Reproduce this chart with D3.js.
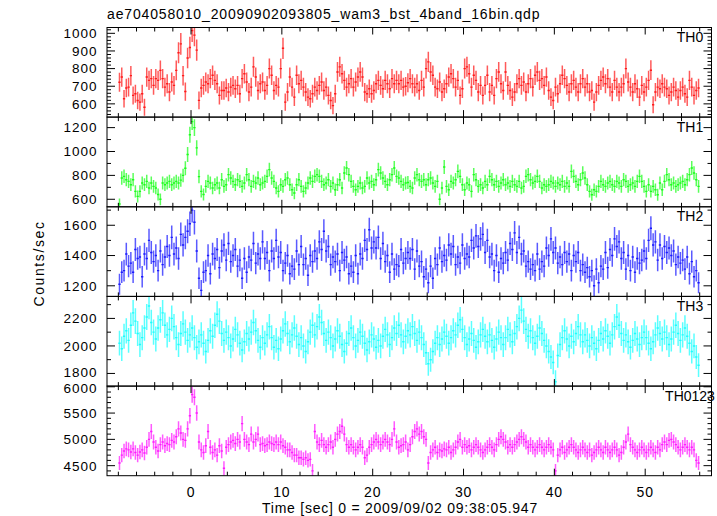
<!DOCTYPE html>
<html><head><meta charset="utf-8">
<script src="https://cdn.jsdelivr.net/npm/d3@7"></script>
<style>
body{margin:0;background:#fff}
text{font-family:"Liberation Sans",Arial,Helvetica,sans-serif;fill:#000}
</style>
</head><body>
<svg id="chart" width="717" height="516"></svg>
<script>
// ---- data (count rate, counts/sec, 0.25 s bins starting at t = -8 s) ----
const binStart = -8;
const binWidth = 0.25;

const th0 = [
 723,752,629,690,695,760,648,657,619,610,657,581,752,733,743,705,
 743,733,790,743,695,714,667,724,705,790,890,940,760,670,860,920,
 1015,990,905,620,690,705,724,714,743,762,733,714,648,676,676,690,
 667,695,705,686,705,657,743,771,724,667,695,810,752,676,714,724,
 676,705,800,762,676,705,695,800,915,610,667,752,695,638,762,714,
 733,695,667,638,629,657,695,676,705,724,676,695,648,619,590,657,
 781,810,771,733,695,714,743,695,724,752,781,752,667,657,686,657,
 676,714,733,705,686,733,714,686,743,714,733,714,733,695,700,720,
 743,714,695,714,676,733,695,800,838,781,762,695,686,724,667,686,
 714,752,771,743,695,733,648,686,800,810,771,695,762,733,667,705,
 648,705,762,667,705,648,743,781,714,676,781,705,676,638,667,714,
 743,705,724,667,714,743,695,762,781,733,743,705,752,676,638,619,
 695,657,714,762,743,705,667,714,733,695,667,714,743,695,714,667,
 676,610,667,705,733,752,714,743,695,667,733,695,667,695,714,800,
 724,695,667,714,686,638,705,667,695,733,791,595,667,695,686,714,
 695,686,648,667,695,676,638,676,695,657,638,733,695,648,676,690
];
const th1 = [
 560,778,792,764,750,722,764,666,624,666,736,722,750,694,736,708,
 694,640,600,736,722,736,750,722,736,750,736,760,800,860,975,1140,
 1250,1200,1030,790,666,640,708,750,736,694,722,736,694,764,708,722,
 806,778,750,722,764,750,708,736,806,764,708,750,736,778,722,736,
 750,792,848,778,750,694,666,722,708,764,778,722,680,652,722,764,
 708,666,694,736,778,750,792,806,792,750,722,736,764,708,736,680,
 722,764,694,820,862,806,750,708,680,708,736,694,708,778,736,750,
 722,764,848,820,778,750,722,764,806,862,792,778,750,722,736,740,
 708,694,778,806,764,750,764,722,764,778,736,708,750,600,694,870,
 708,680,750,736,764,834,792,722,680,736,722,666,806,764,708,722,
 694,750,722,792,764,722,750,708,736,764,722,736,708,750,722,708,
 750,694,708,792,806,764,736,750,792,750,694,722,708,722,750,736,
 708,736,722,750,708,736,708,834,792,750,722,764,820,778,722,666,
 638,680,666,708,750,722,708,736,750,722,708,750,736,708,764,750,
 708,722,736,708,750,792,750,708,666,722,666,708,680,638,736,680,
 750,806,764,722,736,708,722,736,750,722,764,806,862,820,764,708
];
const th2 = [
 1210,1290,1300,1410,1330,1350,1290,1440,1380,1390,1260,1410,1380,1500,1420,1360,
 1400,1300,1430,1340,1390,1460,1400,1520,1410,1450,1380,1540,1470,1520,1560,1610,
 1700,1620,1430,1250,1170,1290,1300,1400,1280,1410,1380,1440,1320,1430,1470,1370,
 1480,1360,1400,1440,1330,1370,1250,1380,1290,1390,1370,1480,1350,1410,1380,1490,
 1380,1420,1300,1430,1380,1500,1390,1420,1300,1350,1400,1280,1330,1310,1430,1340,
 1460,1340,1380,1270,1400,1360,1430,1380,1490,1440,1560,1430,1460,1340,1390,1360,
 1410,1300,1420,1370,1390,1280,1330,1290,1400,1280,1410,1380,1500,1440,1570,1450,
 1490,1450,1520,1380,1480,1360,1400,1290,1410,1310,1340,1330,1440,1350,1380,1420,
 1380,1440,1310,1430,1330,1360,1260,1310,1220,1330,1250,1380,1340,1450,1360,1400,
 1370,1470,1410,1460,1340,1390,1350,1470,1380,1410,1390,1500,1450,1530,1460,1510,
 1540,1420,1500,1390,1410,1300,1400,1290,1380,1350,1420,1370,1480,1440,1550,1420,
 1520,1410,1430,1330,1360,1310,1340,1300,1410,1310,1360,1330,1450,1400,1510,1420,
 1450,1350,1390,1340,1420,1360,1410,1300,1400,1360,1420,1300,1340,1290,1320,1260,
 1300,1200,1310,1220,1330,1310,1420,1320,1440,1400,1510,1460,1490,1380,1420,1310,
 1400,1300,1390,1290,1380,1350,1370,1430,1380,1500,1580,1470,1490,1370,1470,1380,
 1460,1420,1450,1400,1430,1340,1390,1350,1370,1310,1390,1280,1360,1260,1300,1220
];
const th3 = [
 2020,1980,2070,2110,2040,2150,2240,2180,2090,2010,2060,2130,2210,2290,2170,2100,
 2050,2130,2190,2240,2150,2080,2120,2200,2140,2060,2010,2090,2160,2100,2040,2080,
 2130,2060,1990,2030,2080,2020,1960,2040,2110,2070,2150,2230,2180,2090,2040,2100,
 2060,2000,2050,2120,2080,2020,1970,2030,2090,2050,2100,2170,2110,2040,1990,2060,
 2020,2080,2140,2060,1990,2040,1980,2050,2110,2160,2090,2030,2080,2130,2070,2010,
 2060,2000,1960,2030,2100,2150,2080,2140,2210,2170,2090,2040,2100,2060,2000,2050,
 2110,2070,2010,1960,2020,2090,2130,2060,2000,2040,2100,2070,2020,1970,2030,2080,
 2050,1990,2040,2000,2070,2120,2080,2010,2060,2130,2090,2150,2080,2030,2070,2110,
 2080,2140,2090,2040,2100,2060,2010,1950,1870,1900,1960,2020,2060,2010,2050,2100,
 2070,2020,2060,2110,2080,2150,2190,2120,2060,2010,2050,2090,2040,1990,2030,2080,
 2120,2070,2030,2080,2040,1990,2050,2100,2060,2010,2060,2120,2080,2030,2090,2140,
 2200,2260,2180,2120,2070,2110,2060,2020,2070,2130,2090,2040,2000,1960,1920,1880,
 1740,1930,2010,2060,2110,2050,2000,2070,2030,2090,2140,2080,2030,2080,2040,2000,
 2060,2020,1980,2040,2090,2050,2110,2070,2020,2080,2140,2210,2150,2090,2040,2080,
 2030,1990,2040,2090,2050,2010,2060,2100,2060,2020,1980,2030,2080,2130,2090,2050,
 2100,2060,2010,2050,2100,2150,2090,2040,2080,2130,2070,2020,1960,2000,1920,1860
];
const th0123 = [
 4550,4700,4780,4820,4800,4760,4820,4750,4700,4760,4800,4740,4850,5000,5150,4950,
 4850,4780,4900,4950,4880,4920,4900,4980,4950,5050,5200,5120,5000,4980,5200,5450,
 5850,5800,5500,4950,4800,4750,4880,5150,4850,4750,4800,4700,4880,4780,4450,4850,
 4900,4950,4980,4920,5000,4950,5300,5000,4950,4900,5100,4950,5000,5100,4900,4920,
 4880,4900,4950,4920,4900,4950,4900,4950,4880,4850,4800,4800,4750,4700,4700,4650,
 4650,4620,4650,4600,4620,4400,5150,4950,4900,4980,4900,4850,4900,4950,4850,5000,
 5100,5150,5250,5100,4900,4850,4900,4850,4800,4850,4900,4850,4650,4700,4850,4900,
 4950,5000,4950,4900,4950,5000,4950,4900,5000,5200,4950,4850,4880,4900,4950,4800,
 4900,5050,5150,5200,5100,5150,5050,5000,4550,4750,4800,4850,4750,4800,4780,4820,
 4800,4850,4750,4800,4850,4950,5000,4850,4900,4850,4880,4800,4850,4900,4850,4800,
 4750,4800,4850,4900,4850,4800,4900,5000,5050,5000,4950,4850,4900,4850,4900,4950,
 5000,5050,5000,4950,4850,4900,4850,4800,4850,4900,4850,4800,4850,4900,4850,4800,
 4400,4700,4800,4850,4750,4800,4850,4900,4850,4800,4750,4800,4850,4800,4750,4800,
 4700,4750,4800,4850,4800,4750,4850,4800,4750,4800,4850,4800,4700,4750,4850,4950,
 5100,4900,4850,4800,4750,4800,4850,4800,4750,4800,4850,4800,4750,4850,4800,4900,
 4950,4900,4980,5000,4950,4900,4850,4800,4850,4900,4850,4800,4850,4800,4600,4550
];

const bandNames = ["TH0","TH1","TH2","TH3","TH0123"];
const yTicksTH0 = [600,700,800,900,1000];
const yTicksTH1 = [600,800,1000,1200];
const yTicksTH2 = [1200,1400,1600];
const yTicksTH3 = [1800,2000,2200];
const yTicksTH0123 = [4500,5000,5500,6000];
const xTickLabels = [0,10,20,30,40,50];
const titleText = "ae704058010_20090902093805_wam3_bst_4band_16bin.qdp";
const xLabel = "Time [sec] 0 = 2009/09/02 09:38:05.947";
const yLabel = "Counts/sec";

// ---- layout ----
const W = 717, H = 516;
const left = 107, right = 711.5;
const bounds = [27.5, 117.1, 206.8, 296.4, 386.1, 475.7];
const panels = [
  {name: bandNames[0], values: th0,    color: "#ff1a1a", domain: [525, 1033],  ticks: yTicksTH0,    minor: 20},
  {name: bandNames[1], values: th1,    color: "#1aff1a", domain: [537, 1288],  ticks: yTicksTH1,    minor: 100},
  {name: bandNames[2], values: th2,    color: "#1a1aff", domain: [1130, 1722], ticks: yTicksTH2,    minor: 100},
  {name: bandNames[3], values: th3,    color: "#1affff", domain: [1708, 2360], ticks: yTicksTH3,    minor: 100},
  {name: bandNames[4], values: th0123, color: "#ff1aff", domain: [4309, 6013], ticks: yTicksTH0123, minor: 100}
];

const svg = d3.select("#chart");
svg.append("rect").attr("width", W).attr("height", H).attr("fill", "#fff");

const x = d3.scaleLinear().domain([-9.25, 57.3]).range([left, right]);
const xMinor = d3.range(-8, 58, 2);

svg.append("text").attr("x", 107).attr("y", 19).attr("font-size", 14)
  .attr("letter-spacing", "0.85px").text(titleText);

const defs = svg.append("defs");

panels.forEach((p, pi) => {
  const top = bounds[pi], bottom = bounds[pi + 1];
  const y = d3.scaleLinear().domain(p.domain).range([bottom, top]);
  const g = svg.append("g");
  const clipId = "clip" + pi;
  defs.append("clipPath").attr("id", clipId).append("rect")
    .attr("x", left).attr("y", top).attr("width", right - left).attr("height", bottom - top);

  const data = p.values.map((v, i) => ({t: binStart + binWidth * (i + 0.5), v: v, e: 2 * Math.sqrt(v)}));
  const dg = g.append("g").attr("clip-path", `url(#${clipId})`).attr("fill", "none");
  dg.selectAll("line.ey").data(data).join("line").attr("class", "ey")
    .attr("stroke", p.color).attr("stroke-width", 1.5).attr("stroke-opacity", 0.72)
    .attr("x1", d => x(d.t)).attr("x2", d => x(d.t))
    .attr("y1", d => y(d.v - d.e)).attr("y2", d => y(d.v + d.e));
  dg.selectAll("line.ex").data(data).join("line").attr("class", "ex")
    .attr("stroke", p.color).attr("stroke-width", 1.4)
    .attr("x1", d => x(d.t - binWidth / 2)).attr("x2", d => x(d.t + binWidth / 2))
    .attr("y1", d => y(d.v)).attr("y2", d => y(d.v));

  // frame
  g.append("rect").attr("x", left).attr("y", top).attr("width", right - left).attr("height", bottom - top)
    .attr("fill", "none").attr("stroke", "#000").attr("stroke-width", 1);

  const tk = g.append("g").attr("stroke", "#000").attr("stroke-width", 1);
  xMinor.forEach(t => {
    const major = t % 10 === 0;
    const len = major ? 7 : 4;
    tk.append("line").attr("x1", x(t)).attr("x2", x(t)).attr("y1", bottom).attr("y2", bottom - len);
    tk.append("line").attr("x1", x(t)).attr("x2", x(t)).attr("y1", top).attr("y2", top + len);
  });
  const minorVals = d3.range(Math.ceil(p.domain[0] / p.minor) * p.minor, p.domain[1], p.minor);
  minorVals.forEach(v => {
    const major = p.ticks.includes(v);
    const len = major ? 8 : 4;
    tk.append("line").attr("x1", left).attr("x2", left + len).attr("y1", y(v)).attr("y2", y(v));
    tk.append("line").attr("x1", right).attr("x2", right - len).attr("y1", y(v)).attr("y2", y(v));
  });
  p.ticks.forEach((v, ti) => {
    let yy = y(v);
    if (pi === 3 && ti === 0) yy -= 1.5;
    if (pi === 4 && ti === p.ticks.length - 1) yy += 1.5;
    g.append("text").attr("x", 97.5).attr("y", yy).attr("dy", "0.36em")
      .attr("text-anchor", "end").attr("font-size", 13.5).attr("letter-spacing", "1px").text(v);
  });
  g.append("text").attr("x", 690).attr("y", top + 14.5).attr("text-anchor", "middle")
    .attr("font-size", 14).text(p.name);

  if (pi === panels.length - 1) {
    xTickLabels.forEach(t => {
      g.append("text").attr("x", x(t)).attr("y", 497).attr("text-anchor", "middle")
        .attr("font-size", 14).attr("letter-spacing", "0.8px").text(t);
    });
  }
});

svg.append("text").attr("x", 400).attr("y", 513).attr("text-anchor", "middle")
  .attr("font-size", 14).attr("letter-spacing", "0.75px").text(xLabel);
svg.append("text").attr("transform", "translate(44,263.5) rotate(-90)")
  .attr("text-anchor", "middle").attr("font-size", 14).attr("letter-spacing", "1.6px").text(yLabel);
</script>
</body></html>
